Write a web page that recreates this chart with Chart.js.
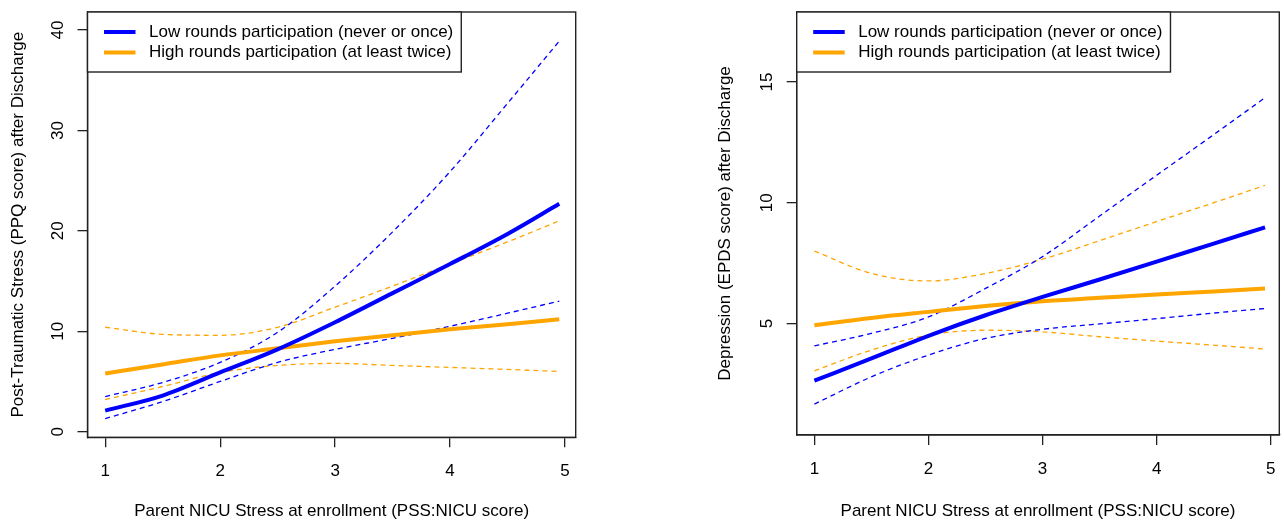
<!DOCTYPE html>
<html>
<head>
<meta charset="utf-8">
<script src="https://cdn.jsdelivr.net/npm/chart.js@4.4.1/dist/chart.umd.min.js"></script>
<style>
  html, body { margin: 0; padding: 0; background: #fff; }
  #wrap { position: relative; width: 1284px; height: 522px; overflow: hidden; }
  .panel { position: absolute; top: 0; width: 642px; height: 522px; }
  #left { left: 0; }
  #right { left: 642px; }
</style>
</head>
<body>
<div id="wrap">
  <div class="panel" id="left"><canvas id="ppqChart"></canvas></div>
  <div class="panel" id="right"><canvas id="epdsChart"></canvas></div>
</div>
<script>
// ----------------------------------------------------------
// DATA
// ----------------------------------------------------------
const xVals = [1, 1.5, 2, 2.5, 3, 3.5, 4, 4.5, 4.95];
const xTicks = [1, 2, 3, 4, 5];
const legendLabels = [
    "Low rounds participation (never or once)",
    "High rounds participation (at least twice)"
];
const xTitle = "Parent NICU Stress at enrollment (PSS:NICU score)";

// left panel: PPQ
const ppqTitle = "Post-Traumatic Stress (PPQ score) after Discharge";
const ppqTicks = [0, 10, 20, 30, 40];
const ppqLowFit = [2.1, 3.6, 5.9, 8.2, 10.9, 13.8, 16.7, 19.7, 22.7];
const ppqLowUpper = [3.5, 4.9, 6.9, 9.9, 14.5, 19.9, 25.9, 32.7, 38.9];
const ppqLowLower = [1.3, 3.0, 5.0, 6.9, 8.2, 9.3, 10.5, 11.8, 13.0];
const ppqHighFit = [5.8, 6.7, 7.6, 8.3, 9.0, 9.6, 10.2, 10.7, 11.2];
const ppqHighUpper = [10.4, 9.7, 9.6, 10.4, 12.4, 14.5, 16.7, 18.9, 21.0];
const ppqHighLower = [3.2, 4.5, 5.9, 6.6, 6.8, 6.6, 6.4, 6.2, 6.0];

// right panel: EPDS
const epdsTitle = "Depression (EPDS score) after Discharge";
const epdsTicks = [5, 10, 15];
const epdsLowFit = [2.63, 3.55, 4.49, 5.34, 6.10, 6.82, 7.56, 8.31, 8.98];
const epdsLowUpper = [4.07, 4.59, 5.27, 6.45, 7.77, 9.45, 11.14, 12.82, 14.35];
const epdsLowLower = [1.66, 2.79, 3.69, 4.38, 4.76, 4.98, 5.20, 5.43, 5.62];
const epdsHighFit = [4.93, 5.23, 5.48, 5.72, 5.92, 6.06, 6.20, 6.32, 6.45];
const epdsHighUpper = [8.0, 7.07, 6.76, 7.07, 7.66, 8.43, 9.22, 10.0, 10.72];
const epdsHighLower = [3.04, 3.90, 4.52, 4.72, 4.65, 4.45, 4.27, 4.10, 3.94];

// ----------------------------------------------------------
// STYLE
// ----------------------------------------------------------
const BLUE = "#0000FF";
const ORANGE = "#FFA500";
const FONT = '"Liberation Sans", Arial, sans-serif';
const legendColors = [BLUE, ORANGE];

Chart.defaults.font.family = FONT;
Chart.defaults.font.size = 17;
Chart.defaults.color = "#000";

function series(values, color, solid) {
    return {
        data: xVals.map((x, i) => ({ x: x, y: values[i] })),
        borderColor: color,
        borderWidth: solid ? 4 : 1.3,
        borderDash: solid ? [] : [5, 4],
        pointRadius: 0,
        tension: 0.4,
        cubicInterpolationMode: "monotone",
        fill: false
    };
}

// box round the plot + legend at top-left, drawn like R's box()/legend()
const boxAndLegend = {
    id: "boxAndLegend",
    afterDraw(chart) {
        const ctx = chart.ctx;
        const a = chart.chartArea;
        ctx.save();
        ctx.strokeStyle = "#222";
        ctx.lineWidth = 1.4;
        ctx.strokeRect(a.left, a.top, a.right - a.left, a.bottom - a.top);

        ctx.font = "17px " + FONT;
        const textW = Math.max(...legendLabels.map(t => ctx.measureText(t).width));
        const w = 61.5 + textW + 8;
        const h = 60;
        ctx.fillStyle = "#fff";
        ctx.fillRect(a.left, a.top, w, h);
        ctx.strokeRect(a.left, a.top, w, h);
        legendLabels.forEach((t, i) => {
            const y = a.top + 20 + i * 20.5;
            ctx.strokeStyle = legendColors[i];
            ctx.lineWidth = 4;
            ctx.beginPath();
            ctx.moveTo(a.left + 16.5, y);
            ctx.lineTo(a.left + 48, y);
            ctx.stroke();
            ctx.fillStyle = "#000";
            ctx.textBaseline = "middle";
            ctx.textAlign = "left";
            ctx.fillText(t, a.left + 61.5, y);
        });
        ctx.restore();
    }
};

function makeChart(id, cfg) {
    const ctx = document.getElementById(id).getContext("2d");
    return new Chart(ctx, {
        type: "line",
        data: {
            datasets: [
                series(cfg.lowFit, BLUE, true),
                series(cfg.highFit, ORANGE, true),
                series(cfg.lowUpper, BLUE, false),
                series(cfg.lowLower, BLUE, false),
                series(cfg.highUpper, ORANGE, false),
                series(cfg.highLower, ORANGE, false)
            ]
        },
        options: {
            responsive: true,
            maintainAspectRatio: false,
            animation: false,
            layout: { padding: { top: 12, left: cfg.padLeft, right: cfg.padRight, bottom: 0 } },
            plugins: { legend: { display: false }, tooltip: { enabled: false } },
            scales: {
                x: {
                    type: "linear",
                    min: cfg.xMin,
                    max: cfg.xMax,
                    afterBuildTicks: s => { s.ticks = xTicks.map(v => ({ value: v })); },
                    afterFit: s => {
                        s.height = cfg.xAxisH;
                        s.paddingLeft = 0;
                        s.paddingRight = 0;
                    },
                    grid: { drawOnChartArea: false, drawTicks: true, tickLength: 10, color: "#222", lineWidth: 1.3 },
                    border: { display: true, color: "#222", width: 1.3 },
                    ticks: { padding: 14, maxRotation: 0, autoSkip: false },
                    title: { display: true, text: xTitle, padding: { top: 0, bottom: 0 } }
                },
                y: {
                    type: "linear",
                    min: cfg.yMin,
                    max: cfg.yMax,
                    afterBuildTicks: s => { s.ticks = cfg.yTicks.map(v => ({ value: v })); },
                    afterFit: s => {
                        s.width = cfg.yAxisW;
                        s.paddingTop = 0;
                        s.paddingBottom = 0;
                    },
                    grid: { drawOnChartArea: false, drawTicks: true, tickLength: 10, color: "#222", lineWidth: 1.3 },
                    border: { display: true, color: "#222", width: 1.3 },
                    ticks: { padding: 10, minRotation: 90, maxRotation: 90, crossAlign: "center", autoSkip: false },
                    title: { display: true, text: cfg.yTitle, padding: { top: 8, bottom: 0 } }
                }
            }
        },
        plugins: [boxAndLegend]
    });
}

makeChart("ppqChart", {
    lowFit: ppqLowFit, lowUpper: ppqLowUpper, lowLower: ppqLowLower,
    highFit: ppqHighFit, highUpper: ppqHighUpper, highLower: ppqHighLower,
    yTitle: ppqTitle, yTicks: ppqTicks,
    xMin: 0.846, xMax: 5.093, yMin: -0.56, yMax: 41.8,
    padLeft: 0, padRight: 66.3, yAxisW: 87.5, xAxisH: 84.7
});

makeChart("epdsChart", {
    lowFit: epdsLowFit, lowUpper: epdsLowUpper, lowLower: epdsLowLower,
    highFit: epdsHighFit, highUpper: epdsHighUpper, highLower: epdsHighLower,
    yTitle: epdsTitle, yTicks: epdsTicks,
    xMin: 0.845, xMax: 5.075, yMin: 0.38, yMax: 17.9,
    padLeft: 65, padRight: 4.7, yAxisW: 89.7, xAxisH: 87
});
</script>
</body>
</html>
